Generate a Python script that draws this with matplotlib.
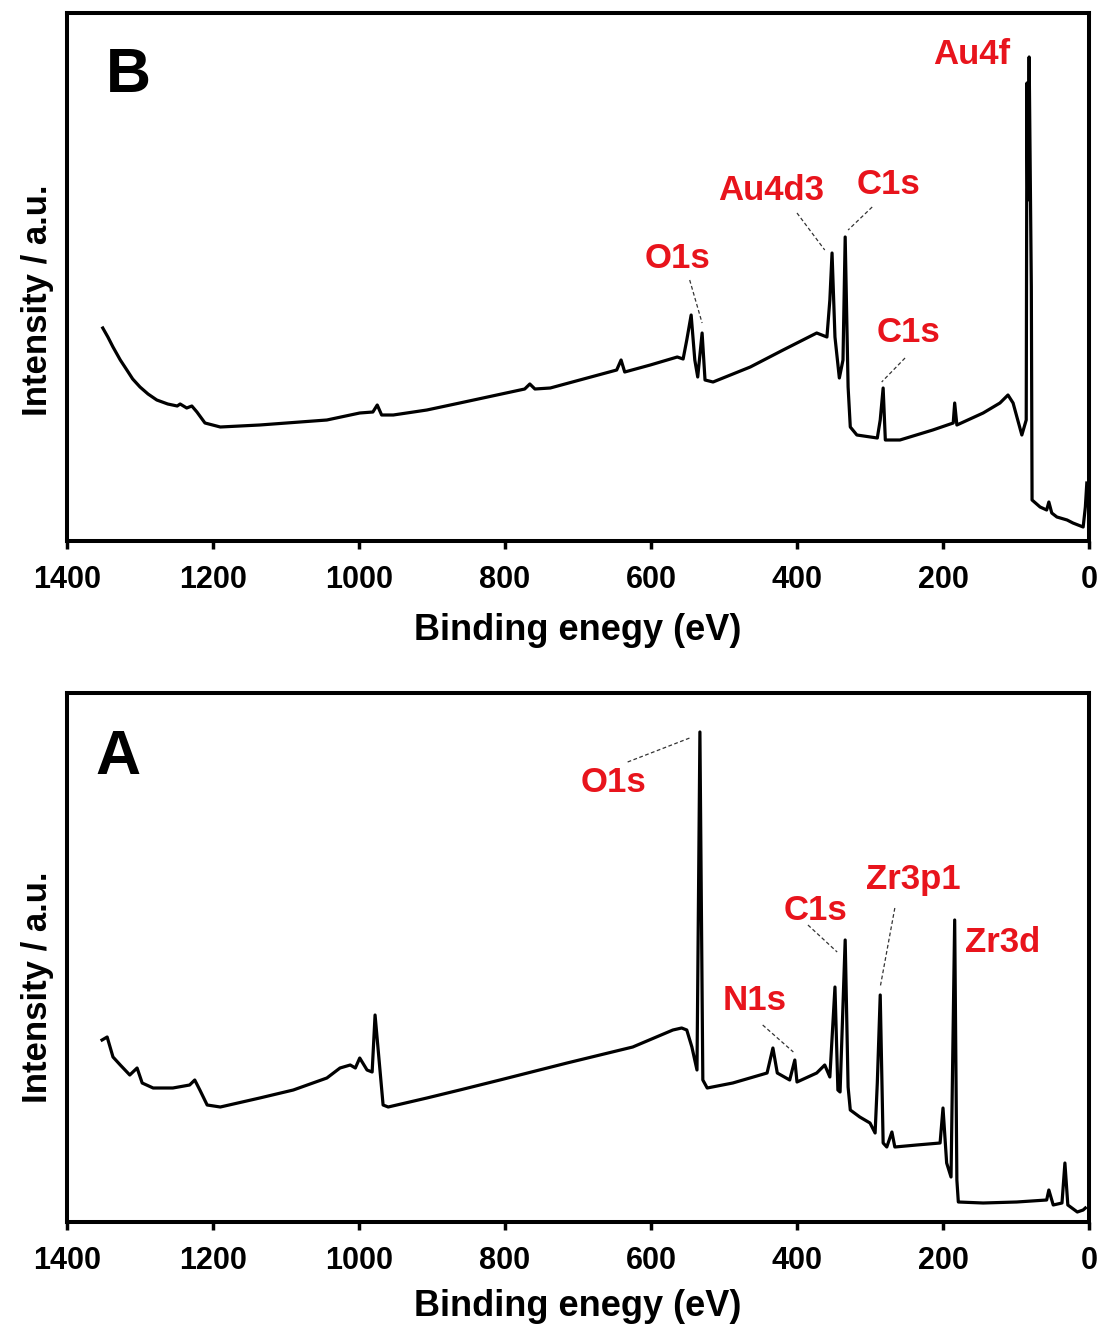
import matplotlib
matplotlib.use("Agg")
import matplotlib.pyplot as plt

plt.rcParams['font.family'] = ['Liberation Sans', 'DejaVu Sans']
plt.rcParams['font.weight'] = 'bold'

# ---------------- Data: panel B (top) ----------------
energy_B = [1351, 1344, 1337, 1327, 1318, 1310, 1300, 1289, 1277, 1262, 1249, 1245, 1236, 1229,
            1222, 1211, 1190,
            1136, 1044, 999, 981, 975, 969, 953, 907, 862, 773, 766, 759, 738,
            647, 641, 636, 601, 564, 556, 551, 545, 540, 536, 530, 526, 515,
            464, 419, 373, 359, 355, 352, 348, 342, 337, 334, 330, 327, 318,
            290, 286, 282, 279, 259, 214, 186, 184, 181, 145, 122, 111, 104,
            92, 86, 85, 84, 82, 79, 78, 67, 58, 55, 51, 44, 30, 22, 8, 5, 3]
intensity_B = [213, 204, 194, 181, 171, 162, 154, 147, 141, 137, 135, 137, 133, 135,
               129, 118, 114,
               116, 121, 128, 129, 136, 126, 126, 131, 138, 152, 157, 152, 153,
               171, 181, 169, 176, 184, 182, 201, 226, 181, 164, 208, 161, 159,
               174, 191, 208, 204, 241, 288, 204, 163, 181, 304, 154, 114, 106,
               103, 121, 153, 101, 101, 111, 118, 138, 116, 128, 138, 146, 138,
               106, 121, 458, 341, 484, 254, 41, 34, 31, 39, 28, 24, 21, 18, 14, 34, 58]

# ---------------- Data: panel A (bottom) ----------------
energy_A = [1352, 1345, 1337, 1327, 1314, 1304, 1297, 1282, 1255, 1232, 1225, 1218,
            1208, 1190, 1136, 1090, 1044, 1026, 1012, 1005, 999, 989, 982, 978,
            967, 960, 907, 862, 807, 715, 625, 570, 558, 551, 544, 537, 533, 529,
            523, 488, 441, 433, 427, 410, 403, 400, 373, 362, 355, 348, 344, 341,
            334, 330, 327, 314, 300, 293, 290, 286, 282, 277, 270, 266, 236, 204,
            200, 195, 189, 184, 181, 179, 145, 99, 58, 55, 49, 37, 33, 29, 16, 8, 5]
intensity_A = [182, 185, 165, 157, 147, 154, 139, 134, 134, 137, 142, 132,
               117, 115, 124, 132, 144, 154, 157, 154, 164, 152, 150, 207,
               117, 115, 124, 132, 142, 159, 175, 192, 194, 192, 175, 152, 490, 142,
               134, 139, 149, 174, 149, 142, 162, 140, 149, 157, 145, 235, 132, 130,
               282, 135, 112, 105, 99, 89, 139, 227, 79, 75, 90, 75, 77, 79,
               114, 59, 45, 302, 42, 20, 19, 20, 22, 32, 17, 19, 59, 17, 10, 12, 14]

x_ticks = [1400, 1200, 1000, 800, 600, 400, 200, 0]
x_label = "Binding enegy (eV)"
y_label = "Intensity / a.u."

labels_B = ["Au4f", "Au4d3", "C1s", "O1s", "C1s"]
labels_A = ["O1s", "N1s", "C1s", "Zr3p1", "Zr3d"]

RED = '#e8141c'
W, H = 1101, 1328

fig = plt.figure(figsize=(W / 100, H / 100), dpi=100)


def px_axes(l, t, r, b):
    return [l / W, 1 - b / H, (r - l) / W, (b - t) / H]


axB = fig.add_axes(px_axes(67, 13, 1089, 541))
axA = fig.add_axes(px_axes(67, 693, 1089, 1222))


def style(ax, ymax):
    ax.set_xlim(1400, 0)
    ax.set_ylim(0, ymax)
    ax.set_xticks(x_ticks)
    ax.set_xticklabels([str(t) for t in x_ticks], fontsize=22, fontweight='bold')
    ax.set_yticks([])
    ax.tick_params(axis='x', direction='out', length=6, width=2.5, pad=11)
    for s in ax.spines.values():
        s.set_linewidth(2.9)


axB.plot(energy_B, intensity_B, color='black', lw=2.3, solid_joinstyle='round')
axA.plot(energy_A, intensity_A, color='black', lw=2.3, solid_joinstyle='round')
style(axB, 528)
style(axA, 529)

# Panel letters
axB.text(1316, 466, "B", fontsize=45, fontweight='bold', ha='center', va='center')
axA.text(1330, 465, "A", fontsize=45, fontweight='bold', ha='center', va='center')

lab_kw = dict(color=RED, fontsize=25, fontweight='bold', ha='center', va='center')
lead_kw = dict(color='#333333', lw=0.9, ls=(0, (3, 2)))

# Panel B labels
pos_B = [(160, 486), (436, 351), (275, 356), (564, 283), (247, 208)]
for t, (x, y) in zip(labels_B, pos_B):
    axB.text(x, y, t, **lab_kw)
axB.plot([400, 362], [328, 291], **lead_kw)
axB.plot([297, 330], [334, 311], **lead_kw)
axB.plot([547, 530], [261, 218], **lead_kw)
axB.plot([252, 284], [183, 159], **lead_kw)

# Panel A labels
pos_A = [(652, 440), (458, 222), (374, 312), (241, 342), (118, 279)]
for t, (x, y) in zip(labels_A, pos_A):
    axA.text(x, y, t, **lab_kw)
axA.plot([632, 547], [460, 484], **lead_kw)
axA.plot([447, 405], [197, 170], **lead_kw)
axA.plot([385, 345], [297, 270], **lead_kw)
axA.plot([266, 286], [314, 235], **lead_kw)

# Axis labels
fig.text(38 / W, 1 - 300 / H, y_label, rotation=90, fontsize=25, fontweight='bold',
         ha='center', va='center')
fig.text(38 / W, 1 - 987 / H, y_label, rotation=90, fontsize=25, fontweight='bold',
         ha='center', va='center')
fig.text(578 / W, 1 - 630 / H, x_label, fontsize=26, fontweight='bold',
         ha='center', va='center')
fig.text(578 / W, 1 - 1306 / H, x_label, fontsize=26, fontweight='bold',
         ha='center', va='center')

fig.savefig("out.png", dpi=100)
